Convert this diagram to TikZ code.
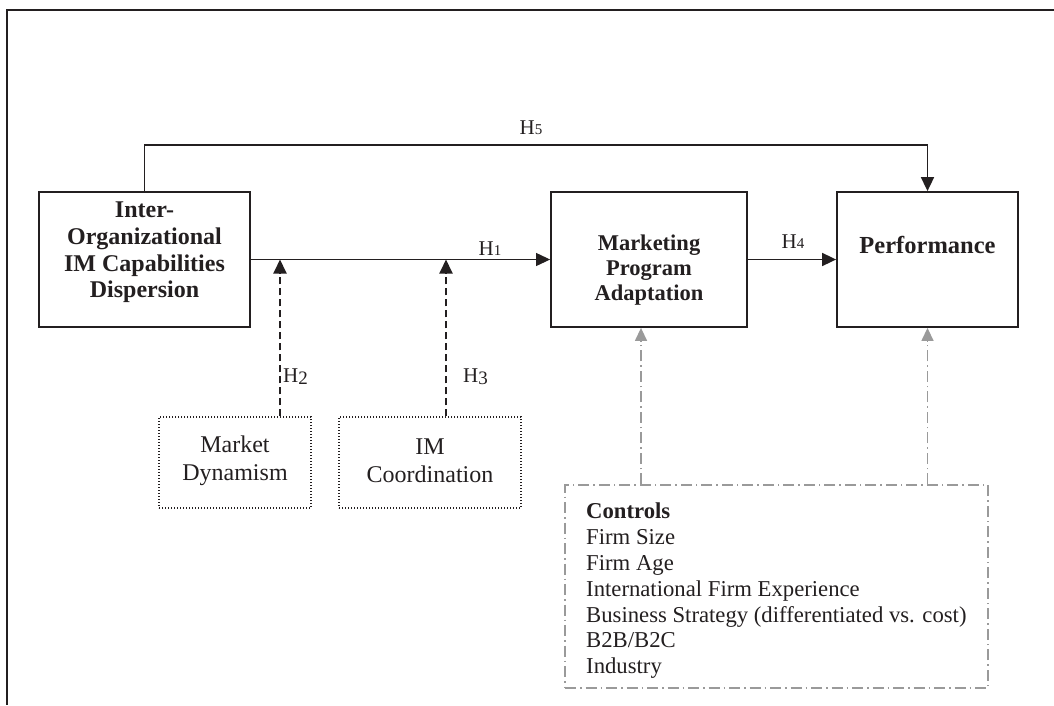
\documentclass[tikz,border=0pt]{standalone}
\usepackage{fontspec}
\setmainfont{Liberation Serif}
\usetikzlibrary{arrows.meta}
\definecolor{ink}{HTML}{231F20}
\definecolor{ctrlgray}{HTML}{9A9A9A}
\tikzset{
  mainbox/.style={draw=ink, line width=1.8pt, rectangle, inner sep=0pt},
  dotbox/.style={draw=ink, line width=1.3pt, dash pattern=on 1.2pt off 1.8pt, rectangle, inner sep=0pt},
  ctrlbox/.style={draw=ctrlgray, line width=1.4pt, dash pattern=on 11pt off 4pt on 1.5pt off 4pt, rectangle, inner sep=0pt},
  boldtext/.style={text=ink, align=center, inner sep=0pt},
  plaintext/.style={text=ink, align=center, inner sep=0pt, font=\fontsize{24}{28}\selectfont},
  hlabel/.style={text=ink, inner sep=0pt, font=\fontsize{21}{24}\selectfont},
  tip/.style={-{Triangle[length=14pt,width=13pt]}},
  graytip/.style={-{Triangle[length=13pt,width=12pt]}},
  conn/.style={draw=ink, line width=1.7pt},
  thinconn/.style={draw=ink, line width=1.0pt},
  dashconn/.style={draw=ink, line width=2pt, dash pattern=on 7pt off 4pt},
  grayconn/.style={draw=ctrlgray, line width=1.4pt, dash pattern=on 11pt off 4pt on 1.5pt off 4pt},
}
\newcommand{\hsub}[1]{{\fontsize{15}{15}\selectfont #1}}
\newcommand{\hlow}[1]{\raisebox{-2pt}{\fontsize{19}{19}\selectfont #1}}
\begin{document}
\begin{tikzpicture}[x=1pt,y=-1pt]
\useasboundingbox (0,0) rectangle (1054,705);
% outer frame (open at right and bottom)
\draw[ink, line width=1.6pt] (1054,10) -- (7,10) -- (7,705);

% main boxes
\node[mainbox, minimum width=211pt, minimum height=135pt] (iocd) at (144.5,259.5) {};
\node[boldtext, font=\bfseries\fontsize{24}{26.7}\selectfont] (iocdtext) at (144.5,252.5)
  {Inter-\\Organizational\\IM Capabilities\\Dispersion};

\node[mainbox, minimum width=196pt, minimum height=135pt] (mpa) at (649,259.5) {};
\node[boldtext, font=\bfseries\fontsize{22.5}{25}\selectfont] (mpatext) at (649,270)
  {Marketing\\Program\\Adaptation};

\node[mainbox, minimum width=181pt, minimum height=135pt] (perf) at (927.5,259.5) {};
\node[boldtext, font=\bfseries\fontsize{24.5}{27}\selectfont] (perftext) at (927.5,244.5)
  {Performance};

% moderator boxes
\node[dotbox, minimum width=152pt, minimum height=91pt] (md) at (235,462.5) {};
\node[plaintext] (mdtext) at (235,460.5) {Market\\Dynamism};

\node[dotbox, minimum width=182pt, minimum height=91pt] (imc) at (430,462.5) {};
\node[plaintext] (imctext) at (430,460.5) {IM\\Coordination};

% controls box
\node[ctrlbox, minimum width=423pt, minimum height=203pt] (ctrl) at (776.5,586.5) {};
\node[text=ink, align=left, inner sep=0pt, anchor=north west, font=\fontsize{22.7}{25.8}\selectfont] (ctrltext) at (586,503)
  {\textbf{Controls}\\Firm Size\\Firm Age\\International Firm Experience\\Business Strategy (differentiated vs. cost)\\B2B/B2C\\Industry};

% H1
\coordinate (h1split) at (460,259.5);
\draw[conn] (iocd.east) -- (h1split);
\draw[thinconn, tip] (h1split) -- (mpa.west);
\node[hlabel] (h1) at (490,249) {H\hsub{1}};

% H4
\draw[conn, tip] (mpa.east) -- (perf.west);
\node[hlabel] (h4) at (793,242) {H\hsub{4}};

% H5
\draw[conn, tip] (iocd.north) -- ++(0,-46) -| (perf.north);
\node[hlabel] (h5) at (531,128) {H\hsub{5}};

% H2 / H3 moderators
\coordinate (h2end) at (280,259.5);
\draw[dashconn, tip] (h2end |- md.north) -- (h2end);
\node[hlabel, anchor=west] (h2) at (283,377) {H\hlow{2}};

\coordinate (h3end) at (446,259.5);
\draw[dashconn, tip] (h3end |- imc.north) -- (h3end);
\node[hlabel, anchor=west] (h3) at (463,377) {H\hlow{3}};

% controls arrows
\coordinate (g1) at (641,0);
\draw[grayconn, graytip, ctrlgray] (g1 |- ctrl.north) -- (g1 |- mpa.south);
\draw[grayconn, graytip, ctrlgray] (perf.south |- ctrl.north) -- (perf.south);
\end{tikzpicture}
\end{document}
